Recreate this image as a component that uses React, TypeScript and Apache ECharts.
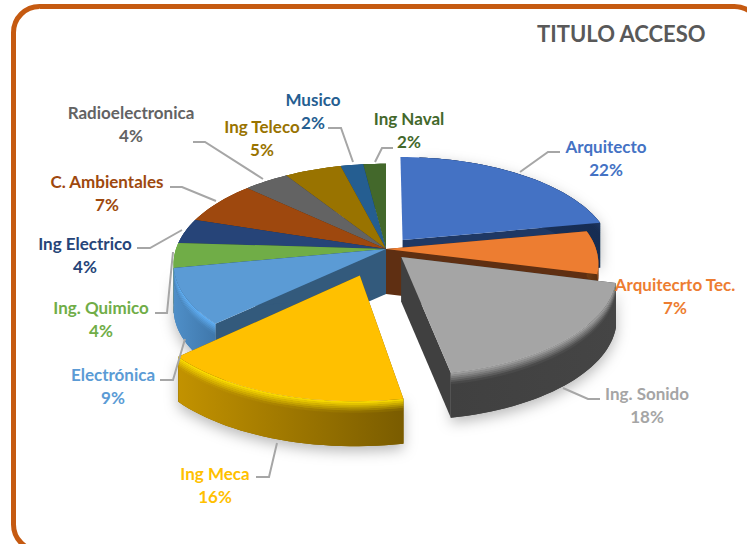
import React, { useEffect, useRef } from "react";
import * as echarts from "echarts";

const titleText = "TITULO ACCESO";
const categories = ["Arquitecto", "Arquitecrto Tec.", "Ing. Sonido", "Ing Meca", "Electrónica", "Ing. Quimico", "Ing Electrico", "C. Ambientales", "Radioelectronica", "Ing Teleco", "Musico", "Ing Naval"];
const values = [22, 7, 18, 16, 9, 4, 4, 7, 4, 5, 2, 2];
const colors = ["#4472C4", "#ED7D31", "#A5A5A5", "#FFC000", "#5B9BD5", "#70AD47", "#264478", "#9E480E", "#636363", "#997300", "#255E91", "#43682B"];

// painter's order: back of the pie first, exploded front slices last
const drawOrder = [11, 10, 9, 8, 7, 6, 5, 4, 0, 1, 2, 3];
// exploded offset per slice, in pie radius units
const explode: number[][] = [[0.08, -0.092], [0, 0], [0.072, 0.08], [-0.12, 0.26], [0, 0], [0, 0], [0, 0], [0, 0], [0, 0], [0, 0], [0, 0], [0, 0]];
// [bevel highlight, wall left, wall right, radial cut]
const wallStyle: string[][] = [
  ["#1F3864", "#1F3864", "#162C52", "#1F3864"],
  ["#B85F20", "#6E3A12", "#5A2E0E", "#5F2F12"],
  ["#A5A5A5", "#404040", "#454545", "#404040"],
  ["#FFE000", "#C29200", "#7A5C00", "#7A5C00"],
  ["#62B2F8", "#4F8FC8", "#3F77AB", "#335A7C"],
  ["#7CC24F", "#5A8C3A", "#5A8C3A", "#43682B"],
  ["#264478", "#1D345C", "#1D345C", "#1D345C"],
  ["#9E480E", "#703309", "#703309", "#703309"],
  ["#636363", "#444444", "#444444", "#444444"],
  ["#997300", "#6E5300", "#6E5300", "#6E5300"],
  ["#255E91", "#1A4468", "#1A4468", "#1A4468"],
  ["#43682B", "#304B1F", "#304B1F", "#304B1F"],
];
// label centres (x, first line y)
const labelPos: number[][] = [[606, 158], [675, 296], [647, 405], [215, 485], [113, 386], [101, 319], [85, 255], [107, 193], [131, 124], [262, 138], [313, 111], [409, 130]];
const leaders: number[][][] = [
  [[520, 172], [548, 152], [560, 152]],
  [],
  [[563, 388], [588, 399], [600, 399]],
  [[277, 443], [269, 477], [256, 477]],
  [[185, 339], [173, 380], [160, 380]],
  [[173, 252], [167, 313], [155, 313]],
  [[182, 230], [150, 248], [137, 248]],
  [[216, 201], [182, 187], [170, 187]],
  [[263, 179], [205, 142], [193, 142]],
  [],
  [[353, 162], [341, 128], [328, 128]],
  [[375, 162], [382, 148], [393, 148]],
];

const CX = 386, CY = 249, A = 210, B = 98, K = 0.15, H = 45;
const total = values.reduce((a, b) => a + b, 0);
const startAngle: number[] = [];
values.reduce((acc, v, i) => { startAngle[i] = (acc / total) * 360; return acc + v; }, 0);

function project(X: number, Y: number, h: number): number[] {
  const s = 1 / (1 - K * Y);
  return [CX + X * A * s, CY + Y * B * s + h];
}
function rim(deg: number, e: number[], h: number): number[] {
  const r = (deg * Math.PI) / 180;
  return project(e[0] + Math.sin(r), e[1] - Math.cos(r), h);
}
function arc(a: number, b: number, e: number[], h: number): number[][] {
  const pts: number[][] = [];
  const n = Math.max(2, Math.ceil((b - a) / 2));
  for (let i = 0; i <= n; i++) pts.push(rim(a + ((b - a) * i) / n, e, h));
  return pts;
}
function hex(c: string): number[] {
  return [1, 3, 5].map((i) => parseInt(c.slice(i, i + 2), 16));
}
function mix(c1: string, c2: string, t: number): string {
  const a = hex(c1), b = hex(c2);
  return "rgb(" + a.map((v, i) => Math.round(v + (b[i] - v) * t)).join(",") + ")";
}

function renderSlice(_: any, api: any) {
  const value = api.value(0) as number;
  const idx = api.value(1) as number;
  const a = startAngle[idx];
  const b = a + (value / total) * 360;
  const e = explode[idx];
  const top = colors[idx];
  const [hi, wl, wr, cut] = wallStyle[idx];
  const apex = project(e[0], e[1], 0);
  const children: any[] = [];
  const shadow = e[0] !== 0 || idx === 4;
  // the first slice's back corner must not peek out behind its top face
  const wa = idx === 0 ? a + 6 : a;

  // base with soft shadow
  const botPts = arc(wa, b, e, H);
  children.push({
    type: "polygon",
    shape: { points: [...arc(wa, b, e, 0), ...botPts.slice().reverse()] },
    style: { fill: wr, ...(shadow ? { shadowBlur: 14, shadowColor: "rgba(0,0,0,0.28)", shadowOffsetY: 5 } : {}) },
  });
  // radial cut faces (the first slice's starting face looks away from the viewer)
  (idx === 0 ? [b] : [a, b]).forEach((d) => {
    const p = rim(d, e, 0);
    children.push({
      type: "polygon",
      shape: { points: [apex, p, [p[0], p[1] + H], [apex[0], apex[1] + H]] },
      style: { fill: cut },
    });
  });
  // outer wall as stacked bands that follow the rim
  const band = (h1: number, h2: number, cl: string, cr: string) => {
    children.push({
      type: "polygon",
      shape: { points: [...arc(wa, b, e, h1), ...arc(wa, b, e, h2).reverse()] },
      style: { fill: new echarts.graphic.LinearGradient(0, 0, 1, 0, [{ offset: 0, color: cl }, { offset: 1, color: cr }]) },
    });
  };
  const bevel = 11;
  band(bevel, H, wl, wr);
  for (let i = 0; i < 6; i++) {
    const t = (i + 0.5) / 6;
    band((i / 6) * bevel, ((i + 1) / 6) * bevel + 0.5, mix(hi, wl, t), mix(hi, wr, t));
  }
  // top face
  children.push({
    type: "polygon",
    shape: { points: [apex, ...arc(a, b, e, 0)] },
    style: { fill: top },
  });
  return { type: "group", children };
}

function renderLabel(_: any, api: any) {
  const idx = api.value(1) as number;
  const pts = leaders[idx];
  const children: any[] = [];
  if (pts.length) {
    children.push({
      type: "polyline",
      shape: { points: pts },
      style: { stroke: "#A6A6A6", lineWidth: 2, fill: "none" },
    });
  }
  children.push({
    type: "text",
    x: labelPos[idx][0],
    y: labelPos[idx][1],
    style: {
      text: categories[idx] + "\n" + api.value(0) + "%",
      fill: colors[idx],
      font: "bold 17px Lato",
      lineHeight: 23,
      align: "center",
      verticalAlign: "middle",
    },
  });
  return { type: "group", children };
}

export default function App() {
  const ref = useRef<HTMLDivElement>(null);
  useEffect(() => {
    const chart = echarts.init(ref.current!, undefined, { renderer: "svg" });
    const data = drawOrder.map((i) => ({ value: [values[i], i] }));
    chart.setOption({
      animation: false,
      backgroundColor: "#FFFFFF",
      title: {
        text: titleText,
        left: 532,
        top: 17,
        textStyle: { fontFamily: "Lato", fontWeight: "bold", fontSize: 22, color: "#595959" },
      },
      graphic: [
        {
          type: "rect",
          shape: { x: 13.5, y: 6.5, width: 747, height: 544, r: 26 },
          style: { fill: "none", stroke: "#C55A11", lineWidth: 5 },
        },
      ],
      series: [
        { type: "custom", coordinateSystem: "none", renderItem: renderSlice, data, silent: true, z: 2 },
        { type: "custom", coordinateSystem: "none", renderItem: renderLabel, data, silent: true, z: 5 },
      ],
    });
    return () => chart.dispose();
  }, []);
  return <div ref={ref} style={{ position: "fixed", left: 0, top: 0, width: 747, height: 544 }} />;
}
